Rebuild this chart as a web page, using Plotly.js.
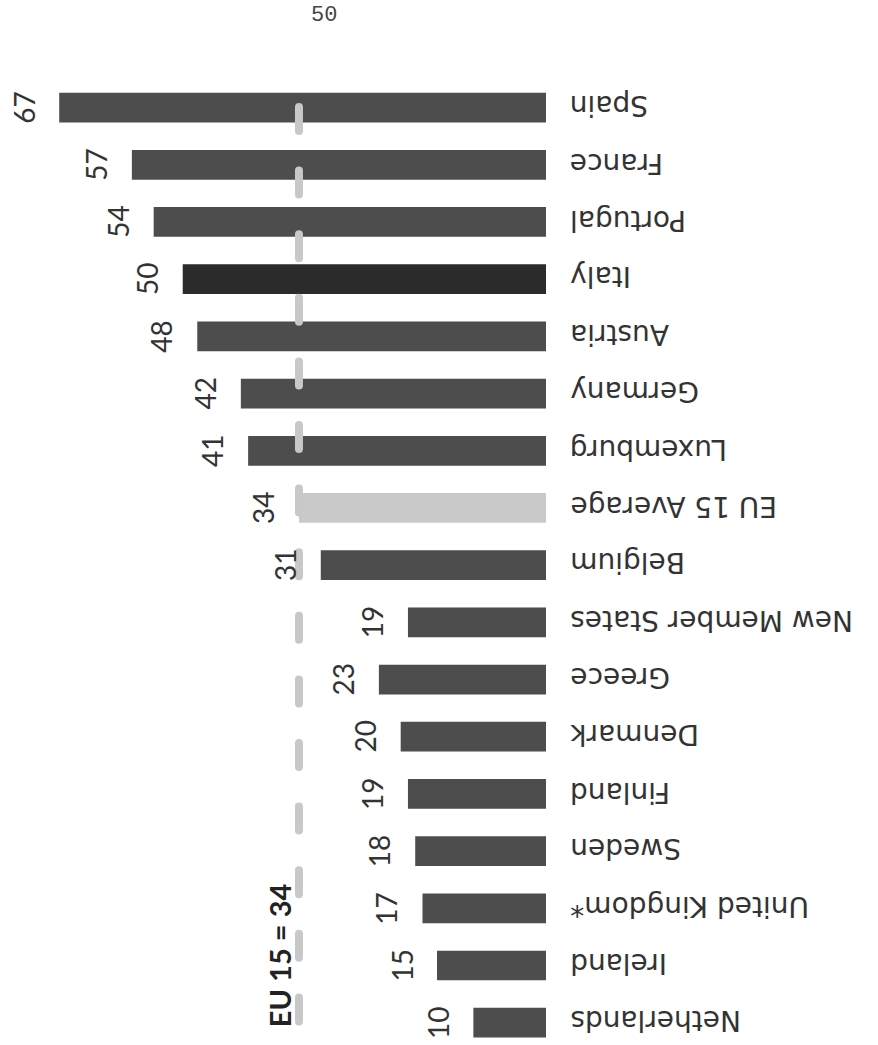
<!DOCTYPE html>
<html>
<head>
<meta charset="utf-8">
<script src="https://cdn.plot.ly/plotly-3.0.1.min.js"></script>
<style>
  html, body { margin: 0; padding: 0; background: #ffffff; }
  #chart { width: 878px; height: 1045px; }
  /* rounded ends on the dashed average line */
  .shapelayer path { stroke-linecap: round; }
</style>
</head>
<body>
<div id="chart"></div>
<script>
// Countries, top to bottom
const countries = [
  "Spain", "France", "Portugal", "Italy", "Austria", "Germany", "Luxemburg",
  "EU 15 Average", "Belgium", "New Member States", "Greece", "Denmark",
  "Finland", "Sweden", "United Kingdom*", "Ireland", "Netherlands"
];
const values = [67, 57, 54, 50, 48, 42, 41, 34, 31, 19, 23, 20, 19, 18, 17, 15, 10];
const highlighted = "Italy";
const averageLabel = "EU 15 Average";
const eu15Average = 34;
const pageNumber = "50";

const barColors = countries.map(c =>
  c === averageLabel ? "#c9c9c9" : (c === highlighted ? "#2b2b2b" : "#4d4d4d"));

const bars = {
  type: "bar",
  orientation: "h",
  x: values,
  y: countries,
  marker: { color: barColors, line: { width: 0 } },
  hoverinfo: "skip"
};

const annotations = [];

// value labels, turned to read upwards, just beyond each bar's end
countries.forEach((c, i) => {
  annotations.push({
    xref: "x", yref: "y", x: values[i], y: c,
    text: String(values[i]),
    textangle: -90, showarrow: false,
    xanchor: "center", yanchor: "middle", xshift: -36,
    font: { family: "Lato, sans-serif", size: 28, color: "#333333" }
  });
  // country names, upside down, to the right of the bars
  annotations.push({
    xref: "paper", yref: "y", x: 1, y: c,
    text: c,
    textangle: 180, showarrow: false,
    xanchor: "left", yanchor: "middle", xshift: 22, yshift: 2,
    font: { family: "DejaVu Sans, sans-serif", size: 28, color: "#333333" }
  });
});

// average callout next to the dashed line
annotations.push({
  xref: "x", yref: "paper", x: eu15Average, y: 0.093,
  text: "<b>EU 15 = " + eu15Average + "</b>",
  textangle: -90, showarrow: false,
  xanchor: "center", yanchor: "middle", xshift: -20,
  font: { family: "Lato, sans-serif", size: 29, color: "#222222" }
});

// page number
annotations.push({
  xref: "paper", yref: "paper", x: 0.593, y: 1.066,
  text: pageNumber, showarrow: false,
  xanchor: "center", yanchor: "middle",
  font: { family: "Liberation Mono, monospace", size: 22, color: "#444444" }
});

const layout = {
  width: 878,
  height: 1045,
  margin: { l: 0, r: 332, t: 79, b: 0 },
  paper_bgcolor: "#ffffff",
  plot_bgcolor: "#ffffff",
  showlegend: false,
  bargap: 0.48,
  xaxis: {
    range: [75.15, 0],
    visible: false,
    fixedrange: true
  },
  yaxis: {
    type: "category",
    categoryorder: "array",
    categoryarray: countries,
    range: [16.39, -0.5],
    showticklabels: false,
    showgrid: false,
    zeroline: false,
    showline: false,
    ticks: "",
    fixedrange: true
  },
  shapes: [{
    type: "line",
    xref: "x", yref: "paper",
    x0: eu15Average, x1: eu15Average,
    y0: 0.971, y1: 0.0228,
    layer: "above",
    line: { color: "#c8c8c8", width: 8, dash: "24px,39.6px" }
  }],
  annotations: annotations
};

Plotly.newPlot("chart", [bars], layout, { staticPlot: true, displayModeBar: false });
</script>
</body>
</html>
